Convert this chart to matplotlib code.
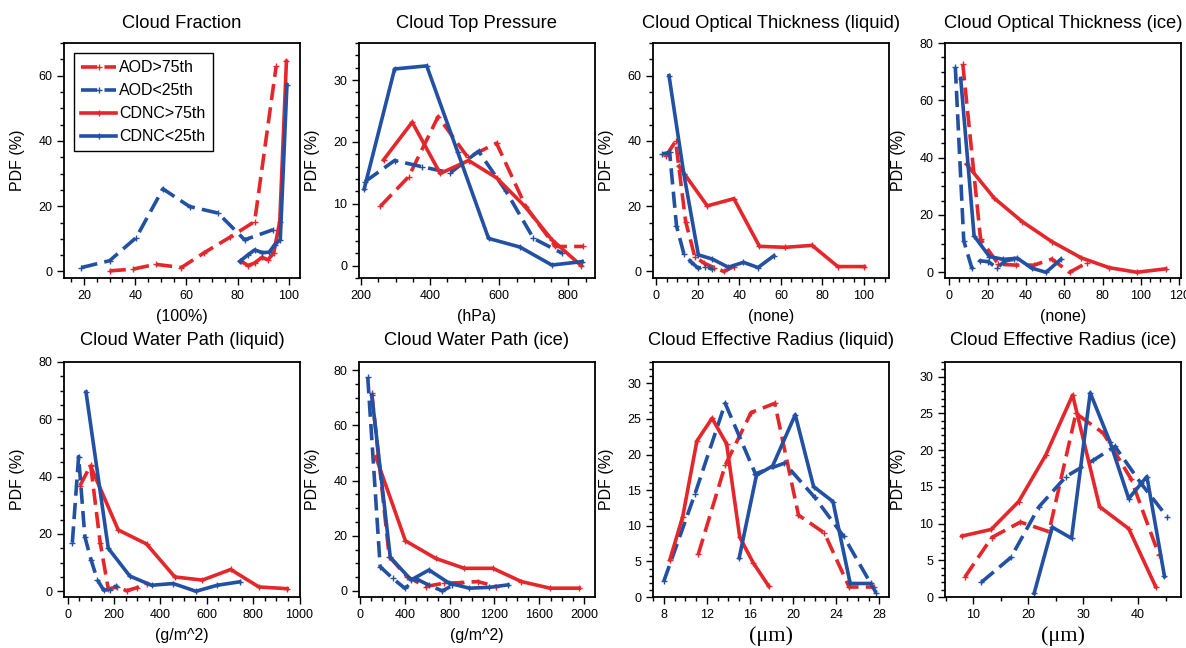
import matplotlib
matplotlib.use('Agg')
import matplotlib.pyplot as plt
from matplotlib.ticker import MultipleLocator

plt.rcParams['font.family'] = ['Liberation Sans', 'DejaVu Sans']

RED = '#e5262a'
BLUE = '#2250a2'

series_names = ['AOD>75th', 'AOD<25th', 'CDNC>75th', 'CDNC<25th']

# Cloud Fraction
cf_aod_hi_x = [30, 39, 48, 58, 67, 77, 86.6, 95]
cf_aod_hi_y = [0.2, 0.7, 2.2, 1.2, 5.8, 10.5, 15.3, 62.9]
cf_aod_lo_x = [19, 30, 40.4, 50.8, 61.2, 72.3, 82.7, 93.8]
cf_aod_lo_y = [1.2, 3.3, 10.4, 25.3, 19.9, 17.9, 9.7, 12.8]
cf_cdnc_hi_x = [81.4, 84, 86.6, 89.4, 91.8, 94, 96.4, 99]
cf_cdnc_hi_y = [3.1, 1.8, 2.6, 4.3, 3.6, 5.6, 15.3, 64.4]
cf_cdnc_lo_x = [80.8, 84, 86.6, 89.6, 92.3, 94.4, 96.6, 99.2]
cf_cdnc_lo_y = [3.1, 5.1, 6.6, 5.8, 5.9, 8.2, 9.7, 57.2]

# Cloud Top Pressure
ctp_aod_hi_x = [256, 338, 423, 509, 592, 677, 762, 843]
ctp_aod_hi_y = [9.6, 14.4, 24.1, 17.5, 19.8, 9.5, 3.1, 3.1]
ctp_aod_lo_x = [212, 297, 376, 458, 540, 620, 699, 782]
ctp_aod_lo_y = [13.6, 17.0, 16.0, 15.0, 18.5, 12.0, 4.4, 2.0]
ctp_cdnc_hi_x = [265, 348, 429, 511, 592, 674, 752, 837]
ctp_cdnc_hi_y = [17.1, 23.2, 14.9, 17.0, 14.2, 9.6, 4.2, 0.0]
ctp_cdnc_lo_x = [209, 297, 390, 480, 569, 660, 752, 840]
ctp_cdnc_lo_y = [12.4, 31.8, 32.3, 18.3, 4.4, 3.0, 0.1, 0.65]

# Cloud Optical Thickness (liquid)
cotl_aod_hi_x = [4.6, 9.4, 14.2, 18.6, 23.2, 27.8, 32.6, 37.4]
cotl_aod_hi_y = [35.3, 39.9, 15.3, 4.5, 2.5, 1.2, 0.0, 1.5]
cotl_aod_lo_x = [3.0, 6.5, 9.8, 13.3, 16.7, 20.2, 23.6, 27.0]
cotl_aod_lo_y = [36.0, 36.5, 14.0, 5.5, 3.0, 1.0, 1.5, 0.7]
cotl_cdnc_hi_x = [11.0, 24.6, 37.4, 49.7, 62.2, 75.0, 87.4, 100.2]
cotl_cdnc_hi_y = [32.2, 20.1, 22.3, 7.7, 7.4, 8.0, 1.5, 1.5]
cotl_cdnc_lo_x = [6.2, 13.3, 20.3, 27.0, 34.7, 42.0, 49.0, 56.6]
cotl_cdnc_lo_y = [60.0, 30.0, 5.1, 3.8, 1.3, 2.8, 1.2, 4.8]

# Cloud Optical Thickness (ice)
coti_aod_hi_x = [7.0, 16.3, 25.6, 34.9, 44.2, 53.5, 62.8, 72.1]
coti_aod_hi_y = [72.6, 11.5, 2.8, 2.5, 2.5, 4.6, 0.0, 3.4]
coti_aod_lo_x = [3.1, 7.5, 11.7, 16.0, 20.4, 24.8, 29.2, 33.6]
coti_aod_lo_y = [71.5, 11.0, 1.5, 4.0, 3.7, 1.5, 4.0, 4.5]
coti_cdnc_hi_x = [9.0, 23.5, 38.0, 53.5, 69.0, 83.5, 98.0, 113.0]
coti_cdnc_hi_y = [37.7, 25.8, 17.7, 10.7, 5.0, 1.6, 0.0, 1.2]
coti_cdnc_lo_x = [5.9, 12.9, 20.9, 28.2, 35.5, 43.1, 50.5, 58.2]
coti_cdnc_lo_y = [67.6, 12.7, 5.5, 4.5, 4.9, 1.4, 0.0, 4.5]

# Cloud Water Path (liquid)
cwpl_aod_hi_x = [53, 99, 140, 175, 214, 254, 297, 340]
cwpl_aod_hi_y = [36.8, 44.0, 17.0, 0.8, 1.5, 0.2, 1.2, 2.7]
cwpl_aod_lo_x = [20, 47, 74, 101, 128, 155, 182, 209]
cwpl_aod_lo_y = [17.0, 47.0, 19.0, 10.9, 4.0, 0.4, 0.6, 1.9]
cwpl_cdnc_hi_x = [99, 218, 340, 462, 581, 703, 825, 947]
cwpl_cdnc_hi_y = [43.6, 21.4, 16.5, 5.0, 3.9, 7.6, 1.5, 0.9]
cwpl_cdnc_lo_x = [79, 175, 268, 362, 455, 553, 645, 742]
cwpl_cdnc_lo_y = [69.5, 15.0, 5.3, 2.1, 2.7, 0.0, 2.1, 3.3]

# Cloud Water Path (ice)
cwpi_aod_hi_x = [105, 261, 420, 585, 750, 900, 1050, 1215]
cwpi_aod_hi_y = [71.6, 12.4, 5.2, 1.6, 2.8, 3.0, 3.4, 1.6]
cwpi_aod_lo_x = [69, 180, 290, 399, 510, 620, 735, 825]
cwpi_aod_lo_y = [77.5, 8.8, 4.6, 1.0, 4.2, 2.0, 0.0, 2.0]
cwpi_cdnc_hi_x = [141, 405, 675, 930, 1185, 1440, 1695, 1956]
cwpi_cdnc_hi_y = [48.6, 18.2, 11.8, 8.2, 8.2, 3.4, 1.0, 1.0]
cwpi_cdnc_lo_x = [105, 270, 456, 616, 796, 976, 1155, 1320]
cwpi_cdnc_lo_y = [71.0, 12.2, 4.0, 7.6, 2.8, 1.0, 1.3, 2.2]

# Cloud Effective Radius (liquid)
cerl_aod_hi_x = [11.2, 13.7, 16.1, 18.3, 20.5, 22.9, 25.2, 27.5]
cerl_aod_hi_y = [6.0, 18.5, 25.9, 27.2, 11.5, 9.0, 1.4, 1.4]
cerl_aod_lo_x = [8.0, 10.9, 13.7, 16.5, 19.2, 22.0, 24.7, 27.7]
cerl_aod_lo_y = [2.2, 14.5, 27.2, 17.3, 18.8, 14.0, 8.5, 0.6]
cerl_cdnc_hi_x = [8.56, 9.76, 11.07, 12.48, 13.83, 15.05, 16.3, 17.75]
cerl_cdnc_hi_y = [5.2, 11.3, 21.9, 25.1, 21.5, 8.4, 4.8, 1.5]
cerl_cdnc_lo_x = [15.0, 16.6, 18.1, 20.2, 21.9, 23.7, 25.3, 27.2]
cerl_cdnc_lo_y = [5.5, 17.1, 18.4, 25.6, 15.5, 13.4, 1.9, 1.9]

# Cloud Effective Radius (ice)
ceri_aod_hi_x = [8.5, 13.4, 18.6, 23.8, 28.7, 33.7, 38.7, 43.8]
ceri_aod_hi_y = [2.7, 8.1, 10.2, 8.9, 25.0, 22.3, 16.1, 5.7]
ceri_aod_lo_x = [11.5, 16.9, 22.0, 26.9, 31.8, 35.8, 40.5, 45.3]
ceri_aod_lo_y = [2.0, 5.4, 12.3, 16.4, 18.6, 20.5, 15.5, 10.9]
ceri_cdnc_hi_x = [8.0, 13.3, 18.3, 23.2, 28.1, 33.0, 38.3, 43.2]
ceri_cdnc_hi_y = [8.3, 9.2, 13.0, 19.3, 27.5, 12.3, 9.3, 1.4]
ceri_cdnc_lo_x = [21.1, 24.4, 27.9, 31.3, 34.9, 38.3, 41.6, 44.8]
ceri_cdnc_lo_y = [0.5, 9.5, 8.0, 27.8, 21.1, 13.4, 16.4, 2.8]

panels = [
    ('Cloud Fraction', '(100%)',
     [(cf_aod_hi_x, cf_aod_hi_y), (cf_aod_lo_x, cf_aod_lo_y),
      (cf_cdnc_hi_x, cf_cdnc_hi_y), (cf_cdnc_lo_x, cf_cdnc_lo_y)],
     (12.2, 104.3), (-2, 70), 20, 5, 20, 5),
    ('Cloud Top Pressure', '(hPa)',
     [(ctp_aod_hi_x, ctp_aod_hi_y), (ctp_aod_lo_x, ctp_aod_lo_y),
      (ctp_cdnc_hi_x, ctp_cdnc_hi_y), (ctp_cdnc_lo_x, ctp_cdnc_lo_y)],
     (194, 877), (-2, 36), 200, 50, 10, 2),
    ('Cloud Optical Thickness (liquid)', '(none)',
     [(cotl_aod_hi_x, cotl_aod_hi_y), (cotl_aod_lo_x, cotl_aod_lo_y),
      (cotl_cdnc_hi_x, cotl_cdnc_hi_y), (cotl_cdnc_lo_x, cotl_cdnc_lo_y)],
     (-1.5, 112), (-2, 70), 20, 5, 20, 5),
    ('Cloud Optical Thickness (ice)', '(none)',
     [(coti_aod_hi_x, coti_aod_hi_y), (coti_aod_lo_x, coti_aod_lo_y),
      (coti_cdnc_hi_x, coti_cdnc_hi_y), (coti_cdnc_lo_x, coti_cdnc_lo_y)],
     (-2.3, 121), (-2, 80), 20, 5, 20, 5),
    ('Cloud Water Path (liquid)', '(g/m^2)',
     [(cwpl_aod_hi_x, cwpl_aod_hi_y), (cwpl_aod_lo_x, cwpl_aod_lo_y),
      (cwpl_cdnc_hi_x, cwpl_cdnc_hi_y), (cwpl_cdnc_lo_x, cwpl_cdnc_lo_y)],
     (-16, 1002), (-2, 80), 200, 50, 20, 5),
    ('Cloud Water Path (ice)', '(g/m^2)',
     [(cwpi_aod_hi_x, cwpi_aod_hi_y), (cwpi_aod_lo_x, cwpi_aod_lo_y),
      (cwpi_cdnc_hi_x, cwpi_cdnc_hi_y), (cwpi_cdnc_lo_x, cwpi_cdnc_lo_y)],
     (-9, 2097), (-2.2, 83), 400, 100, 20, 5),
    ('Cloud Effective Radius (liquid)', '(\u03bcm)',
     [(cerl_aod_hi_x, cerl_aod_hi_y), (cerl_aod_lo_x, cerl_aod_lo_y),
      (cerl_cdnc_hi_x, cerl_cdnc_hi_y), (cerl_cdnc_lo_x, cerl_cdnc_lo_y)],
     (7.0, 28.9), (0, 33), 4, 1, 5, 1),
    ('Cloud Effective Radius (ice)', '(\u03bcm)',
     [(ceri_aod_hi_x, ceri_aod_hi_y), (ceri_aod_lo_x, ceri_aod_lo_y),
      (ceri_cdnc_hi_x, ceri_cdnc_hi_y), (ceri_cdnc_lo_x, ceri_cdnc_lo_y)],
     (4.9, 47.8), (0, 32), 10, 5, 5, 1),
]

styles = [(RED, '--'), (BLUE, '--'), (RED, '-'), (BLUE, '-')]

W, H = 1186, 648
fig = plt.figure(figsize=(W / 100, H / 100), dpi=100)
lefts = [64, 359, 653, 945]
tops = [43, 362]
aw, ah = 236, 235

for i, (title, xlab, data, xl, yl, xmaj, xmin, ymaj, ymin) in enumerate(panels):
    row, col = divmod(i, 4)
    ax = fig.add_axes([lefts[col] / W, (H - tops[row] - ah) / H, aw / W, ah / H])
    for (xs, ys), (c, ls), name in zip(data, styles, series_names):
        line, = ax.plot(xs, ys, color=c, lw=2.6, ls=ls, marker='+', ms=4,
                        mew=1, label=name)
        if ls == '--':
            line.set_dashes((4.5, 2))
    ax.set_xlim(*xl)
    ax.set_ylim(*yl)
    ax.xaxis.set_major_locator(MultipleLocator(xmaj))
    ax.xaxis.set_minor_locator(MultipleLocator(xmin))
    ax.yaxis.set_major_locator(MultipleLocator(ymaj))
    ax.yaxis.set_minor_locator(MultipleLocator(ymin))
    ax.tick_params(which='both', direction='out', top=False, right=False,
                   labelsize=9, width=1)
    ax.tick_params(which='major', length=5)
    ax.tick_params(which='minor', length=3)
    for s in ax.spines.values():
        s.set_linewidth(1.3)
    ax.set_title(title, fontsize=13.2, pad=10.5 if row == 0 else 12)
    ax.set_ylabel('PDF (%)', fontsize=11.5, va='center')
    ax.yaxis.set_label_coords(-0.195, 0.5)
    if row == 0:
        ax.set_xlabel(xlab, fontsize=11.5, va='center')
        ax.xaxis.set_label_coords(0.5, -0.162)
    elif col < 2:
        ax.set_xlabel(xlab, fontsize=11.5, va='center')
        ax.xaxis.set_label_coords(0.5, -0.165)
    else:
        ax.set_xlabel(xlab, fontsize=16, va='center',
                      family=['Liberation Serif', 'DejaVu Serif'])
        ax.xaxis.set_label_coords(0.5, -0.165)
    if i == 0:
        leg = ax.legend(loc='upper left', fontsize=11.5, handlelength=2.2,
                        fancybox=False, framealpha=1, edgecolor='black',
                        borderpad=0.45, labelspacing=0.5, handletextpad=0.2,
                        borderaxespad=0, bbox_to_anchor=(0.042, 0.957))
        leg.get_frame().set_linewidth(1.0)

fig.savefig('out.png', dpi=100)
